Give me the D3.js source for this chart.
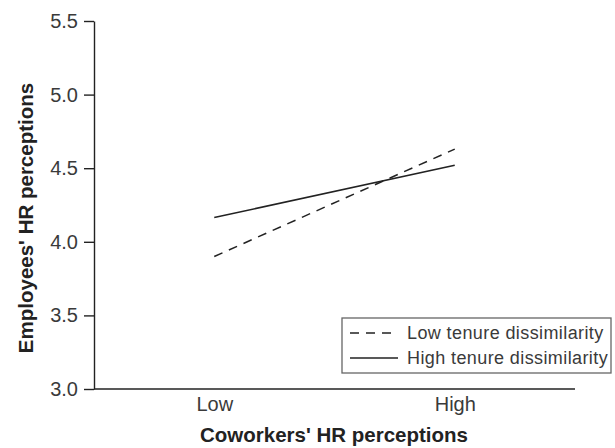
<!DOCTYPE html>
<html>
<head>
<meta charset="utf-8">
<script src="https://cdn.jsdelivr.net/npm/d3@7"></script>
<style>
  body { margin: 0; background: #fff; }
  text { font-family: "Liberation Sans", Arial, sans-serif; }
</style>
</head>
<body>
<svg id="chart" width="615" height="448"></svg>
<script>
// 数据
var categories = ["Low", "High"];
var lowTenure = [3.90, 4.63];
var highTenure = [4.165, 4.52];
var yTicks = [3.0, 3.5, 4.0, 4.5, 5.0, 5.5];
var seriesNames = ["Low tenure dissimilarity", "High tenure dissimilarity"];

var svg = d3.select("#chart");
var font = "Liberation Sans, Arial, sans-serif";

// 比例尺
var x = d3.scalePoint()
    .domain(categories)
    .range([94, 575])
    .padding(0.5);

var y = d3.scaleLinear()
    .domain([3.0, 5.5])
    .range([389, 21]);

// y 轴
var yAxis = svg.append("g")
    .attr("transform", "translate(94,0)")
    .call(d3.axisLeft(y).tickValues(yTicks).tickFormat(d3.format(".1f")).tickSize(10).tickPadding(6).tickSizeOuter(0));
yAxis.select(".domain").attr("stroke", "#222").attr("stroke-width", 1.4);
yAxis.selectAll(".tick line").attr("stroke", "#222").attr("stroke-width", 1.4);
yAxis.selectAll(".tick text").attr("font-size", 20).attr("fill", "#3a3a3a")
    .attr("font-family", font);

// x 轴（无刻度线）
var xAxis = svg.append("g")
    .attr("transform", "translate(0,389)")
    .call(d3.axisBottom(x).tickSize(0).tickPadding(8));
xAxis.select(".domain").attr("d", "M94,0H575").attr("stroke", "#222").attr("stroke-width", 1.4);
xAxis.selectAll(".tick text").attr("font-size", 20).attr("fill", "#3a3a3a")
    .attr("font-family", font);

// 折线
var line = d3.line()
    .x(function (d, i) { return x(categories[i]); })
    .y(function (d) { return y(d); });

svg.append("path")
    .datum(lowTenure)
    .attr("d", line)
    .attr("fill", "none")
    .attr("stroke", "#222")
    .attr("stroke-width", 1.5)
    .attr("stroke-dasharray", "9,7");

svg.append("path")
    .datum(highTenure)
    .attr("d", line)
    .attr("fill", "none")
    .attr("stroke", "#222")
    .attr("stroke-width", 1.5);

// 轴标题
svg.append("text")
    .attr("x", 334)
    .attr("y", 442)
    .attr("text-anchor", "middle")
    .attr("font-size", 20.5)
    .attr("font-weight", "bold")
    .attr("fill", "#222")
    .text("Coworkers' HR perceptions");

svg.append("text")
    .attr("transform", "translate(33,218) rotate(-90)")
    .attr("text-anchor", "middle")
    .attr("font-size", 20.5)
    .attr("font-weight", "bold")
    .attr("fill", "#222")
    .text("Employees' HR perceptions");

// 图例
var legend = svg.append("g");
legend.append("rect")
    .attr("x", 342).attr("y", 318)
    .attr("width", 269).attr("height", 55)
    .attr("fill", "#fff")
    .attr("stroke", "#666")
    .attr("stroke-width", 1.3);

var dashes = ["9,7", null];
seriesNames.forEach(function (name, i) {
    var cy = 333 + i * 25;
    legend.append("line")
        .attr("x1", 350).attr("x2", 398)
        .attr("y1", cy).attr("y2", cy)
        .attr("stroke", "#222")
        .attr("stroke-width", 1.3)
        .attr("stroke-dasharray", dashes[i]);
    legend.append("text")
        .attr("x", 407).attr("y", cy + 6)
        .attr("font-size", 18)
        .attr("letter-spacing", 0.4)
        .attr("fill", "#3a3a3a")
        .text(name);
});
</script>
</body>
</html>
